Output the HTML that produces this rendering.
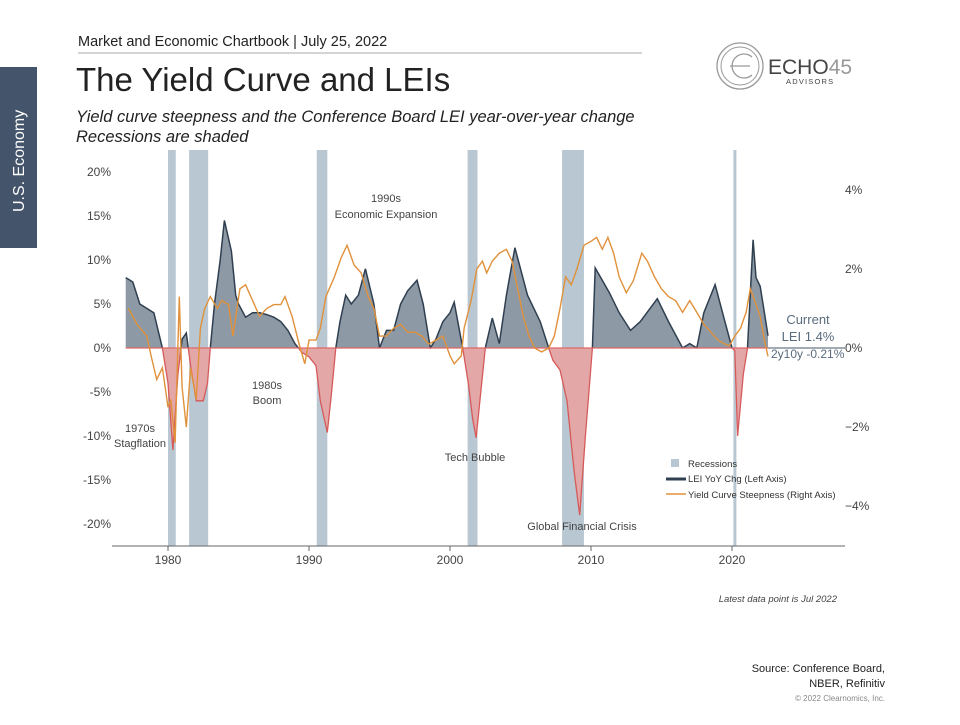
<!DOCTYPE html>
<html><head><meta charset="utf-8">
<style>
body{margin:0;background:#fff;width:960px;height:720px;overflow:hidden;font-family:"Liberation Sans",sans-serif;}
svg text{font-family:"Liberation Sans",sans-serif;}
</style></head>
<body>
<svg width="960" height="720" viewBox="0 0 960 720">
<text x="78" y="46" font-size="14.5" fill="#222">Market and Economic Chartbook | July 25, 2022</text>
<line x1="78" y1="53" x2="642" y2="53" stroke="#aaa" stroke-width="1"/>
<text x="76" y="91" font-size="33" fill="#222">The Yield Curve and LEIs</text>
<text x="76" y="122" font-size="16.5" font-style="italic" fill="#222">Yield curve steepness and the Conference  Board LEI year-over-year change</text>
<text x="76" y="142" font-size="16.5" font-style="italic" fill="#222">Recessions are shaded</text>
<rect x="0" y="67" width="37" height="181" fill="#44546a"/>
<text transform="translate(24,212) rotate(-90)" font-size="16" fill="#fff">U.S. Economy</text>
<g>
<circle cx="740" cy="66" r="23" fill="none" stroke="#999" stroke-width="1.3"/>
<circle cx="740" cy="66" r="19" fill="none" stroke="#999" stroke-width="1"/>
<path d="M752 57 A12 12 0 1 0 752 75" fill="none" stroke="#999" stroke-width="1.3"/>
<line x1="730" y1="66" x2="750" y2="66" stroke="#999" stroke-width="1.2"/>
<text x="768" y="74" font-size="21" fill="#444">ECHO<tspan fill="#999">45</tspan></text>
<text x="786" y="84" font-size="7.5" fill="#444" letter-spacing="1.2">ADVISORS</text>
</g>
<g id="chart"></g>
<text x="837" y="602" font-size="9.5" font-style="italic" fill="#444" text-anchor="end">Latest data point is Jul 2022</text>
<text x="885" y="672" font-size="11" fill="#222" text-anchor="end">Source: Conference Board,</text>
<text x="885" y="687" font-size="11" fill="#222" text-anchor="end">NBER, Refinitiv</text>
<text x="885" y="701" font-size="8" fill="#888" text-anchor="end">© 2022 Clearnomics, Inc.</text>
</svg>
<script>
const recessions=[[1980.0,1980.55],[1981.5,1982.85],[1990.55,1991.3],[2001.25,2001.95],[2007.95,2009.5],[2020.1,2020.3]];
const leiYears=[1977.0,1977.5,1978.0,1978.5,1979.0,1979.3,1979.6,1980.0,1980.35,1980.7,1981.0,1981.3,1981.6,1982.0,1982.5,1982.8,1983.0,1983.3,1983.7,1984.0,1984.5,1984.8,1985.0,1985.5,1986.0,1986.5,1987.0,1987.5,1988.0,1988.5,1989.0,1989.5,1990.0,1990.5,1990.8,1991.3,1991.6,1991.9,1992.2,1992.6,1993.0,1993.5,1994.0,1994.6,1995.0,1995.5,1996.0,1996.5,1997.0,1997.66,1998.1,1998.6,1999.0,1999.5,2000.0,2000.3,2000.9,2001.3,2001.6,2001.85,2002.5,2003.0,2003.5,2004.0,2004.6,2005.5,2006.4,2007.0,2007.3,2007.8,2008.3,2008.8,2009.2,2009.6,2010.1,2010.3,2011.3,2012.0,2012.8,2013.5,2014.7,2015.5,2016.5,2017.0,2017.5,2018.0,2018.8,2019.5,2020.0,2020.2,2020.4,2020.8,2021.1,2021.5,2021.7,2022.0,2022.3,2022.55];
const leiValues=[8,7.5,5,4.5,4,2,0,-4,-11.6,-3,1,1.7,-2,-6,-6,-4,0,5,10,14.5,11,6,5,3.5,4,4,3.8,3.5,3,2,0.5,-0.5,-1,-2,-6,-9.6,-5,0,3,6,5,6,9,5,0,2,2,5,6.5,7.7,5,0,1,3,4,5.2,0,-4,-8,-10.2,0,3.4,0.5,6,11.4,6,3,0,-1.4,-2.5,-6,-14,-19,-10,0,9.1,6.3,4,2,3,5.6,3,0,0.5,0,4,7.2,3,0,-0.3,-10,-3,0,12.3,8,7,4,1.4];
const ycYears=[1977.2,1977.8,1978.5,1978.8,1979.2,1979.6,1980.0,1980.2,1980.5,1980.8,1981.0,1981.3,1981.6,1982.0,1982.3,1982.6,1983.0,1983.5,1983.8,1984.3,1984.6,1985.1,1985.5,1986.0,1986.5,1987.0,1987.5,1988.0,1988.3,1988.8,1989.3,1989.7,1990.0,1990.5,1990.8,1991.2,1991.8,1992.3,1992.7,1993.2,1993.7,1994.2,1994.6,1995.0,1995.5,1996.0,1996.5,1997.0,1997.5,1998.0,1998.5,1999.0,1999.5,2000.0,2000.3,2000.8,2001.0,2001.5,2001.9,2002.3,2002.6,2003.0,2003.5,2004.0,2004.4,2004.8,2005.2,2005.6,2006.0,2006.5,2007.0,2007.4,2007.8,2008.2,2008.6,2009.0,2009.5,2010.0,2010.4,2010.8,2011.2,2011.6,2012.0,2012.5,2013.0,2013.6,2014.0,2014.5,2015.0,2015.5,2016.0,2016.5,2017.0,2017.5,2018.0,2018.5,2019.0,2019.5,2019.8,2020.2,2020.6,2021.0,2021.3,2021.6,2022.0,2022.3,2022.55];
const ycValues=[1.0,0.6,0.3,-0.2,-0.8,-0.5,-1.5,-1.3,-2.4,1.3,-1.0,-2.0,-0.5,-1.3,0.5,1.0,1.3,1.0,1.2,1.1,0.3,1.5,1.6,1.2,0.8,1.0,1.1,1.1,1.3,0.8,0.1,-0.4,0.2,0.2,0.5,1.3,1.8,2.3,2.6,2.1,1.9,1.3,1.0,0.3,0.3,0.5,0.6,0.4,0.4,0.3,0.1,0.2,0.3,-0.2,-0.4,-0.2,0.5,1.2,2.0,2.2,1.9,2.2,2.4,2.5,2.2,1.5,0.8,0.3,0,-0.1,0,0.3,1.0,1.8,1.6,2.0,2.6,2.7,2.8,2.5,2.8,2.4,1.8,1.4,1.7,2.4,2.2,1.8,1.5,1.3,1.2,0.9,1.2,0.9,0.6,0.4,0.2,0.1,0.05,0.3,0.5,0.9,1.5,1.2,0.8,0.2,-0.21];
const xTicks=[1980,1990,2000,2010,2020];
const leftTicks=[20,15,10,5,0,-5,-10,-15,-20];
const rightTicks=[4,2,0,-2,-4];

const NS='http://www.w3.org/2000/svg';
const g=document.getElementById('chart');
const X=yr=>168+(yr-1980)*14.1;
const YL=v=>348-v*8.8;
const YR=v=>348-v*39.5;
function mk(tag,attrs,parent){const e=document.createElementNS(NS,tag);for(const k in attrs)e.setAttribute(k,attrs[k]);(parent||g).appendChild(e);return e;}

const defs=mk('defs',{});
const cp=mk('clipPath',{id:'pos'},defs);mk('rect',{x:0,y:0,width:960,height:348},cp);
const cn=mk('clipPath',{id:'neg'},defs);mk('rect',{x:0,y:348,width:960,height:372},cn);

recessions.forEach(r=>{
 const e=mk('rect',{x:X(r[0]),y:150,width:Math.max(3,X(r[1])-X(r[0])),height:396,fill:'#b8c7d1'});
 
 
});

let pts=leiYears.map((y,i)=>X(y).toFixed(1)+','+YL(leiValues[i]).toFixed(1));
const lastX=X(leiYears[leiYears.length-1]);
let area='M'+X(leiYears[0])+','+YL(0)+' L'+pts.join(' L')+' L'+lastX+','+YL(0)+'Z';
let line='M'+pts.join(' L');
const ap=mk('path',{d:area,fill:'#8d9aa6','clip-path':'url(#pos)'});


const an=mk('path',{d:area,fill:'#e3a7a7','clip-path':'url(#neg)'});


const lp=mk('path',{d:line,fill:'none',stroke:'#2f3f50','stroke-width':1.5,'clip-path':'url(#pos)'});


const ln=mk('path',{d:line,fill:'none',stroke:'#d65a5a','stroke-width':1.3,'clip-path':'url(#neg)'});


const zl=mk('line',{x1:X(1977),x2:lastX,y1:YL(0),y2:YL(0),stroke:'#e06666','stroke-width':1.2});


const zl2=mk('line',{x1:lastX,x2:845,y1:YL(0),y2:YL(0),stroke:'#6b7785','stroke-width':1.2});



const yc=mk('path',{d:'M'+ycYears.map((y,i)=>X(y).toFixed(1)+','+YR(ycValues[i]).toFixed(1)).join(' L'),fill:'none',stroke:'#e0913a','stroke-width':1.4});



const ax=mk('line',{x1:112,x2:845,y1:546,y2:546,stroke:'#666','stroke-width':1});


xTicks.forEach(t=>{
 const tk=mk('line',{x1:X(t),x2:X(t),y1:546,y2:551,stroke:'#666'});
 
 
 const tx=mk('text',{x:X(t),y:564,'font-size':12,fill:'#444','text-anchor':'middle'});tx.textContent=t;
 
 
});
leftTicks.forEach(t=>{
 const tx=mk('text',{x:111,y:YL(t)+4,'font-size':12,fill:'#444','text-anchor':'end'});tx.textContent=t+'%';
 
 
});
rightTicks.forEach(t=>{
 const tx=mk('text',{x:845,y:YR(t)+4,'font-size':12,fill:'#444','text-anchor':'start'});tx.textContent=(t<0?'\u2212'+(-t):t)+'%';
 
 
});

const notes=[['1990s',386,202],['Economic Expansion',386,218],['1980s',267,389],['Boom',267,404],['1970s',140,432],['Stagflation',140,447],['Tech Bubble',475,461],['Global Financial Crisis',582,530]];
notes.forEach(n=>{
 const tx=mk('text',{x:n[1],y:n[2],'font-size':11,fill:'#444','text-anchor':'middle'});tx.textContent=n[0];
 
 
});
[['Current',808,324],['LEI 1.4%',808,341]].forEach(n=>{
 const tx=mk('text',{x:n[1],y:n[2],'font-size':13,fill:'#5a6b7c','text-anchor':'middle'});tx.textContent=n[0];
 
 
});
const cur=mk('text',{x:771,y:358,'font-size':12,fill:'#5a6b7c'});cur.textContent='2y10y -0.21%';



const lg=mk('g',{});


mk('rect',{x:671,y:459,width:8,height:8,fill:'#b8c7d1'},lg);
mk('line',{x1:666,x2:686,y1:479,y2:479,stroke:'#2f3f50','stroke-width':3},lg);
mk('line',{x1:666,x2:686,y1:494,y2:494,stroke:'#e0913a','stroke-width':1.5},lg);
[['Recessions',467],['LEI YoY Chg (Left Axis)',482],['Yield Curve Steepness (Right Axis)',498]].forEach(l=>{
 const tx=mk('text',{x:688,y:l[1],'font-size':9.5,fill:'#333'},lg);tx.textContent=l[0];
 
 
});
</script>
</body></html>
